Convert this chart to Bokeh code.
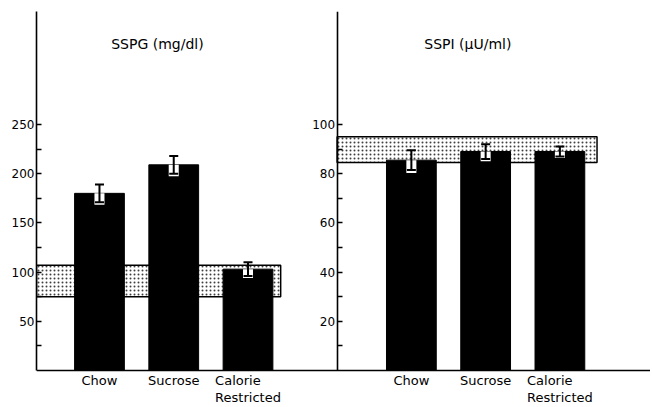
from bokeh.plotting import figure
from bokeh.models import (Range1d, LinearAxis, FixedTicker, ColumnDataSource,
                          Whisker, TeeHead, Label, LabelSet)
from bokeh.core.properties import value
from bokeh.embed import file_html
from bokeh.resources import INLINE

# ---------------- data ----------------
categories = ["Chow", "Sucrose", "Calorie\nRestricted"]
sspg_mean = [180, 209, 103]
sspg_sem = [9, 9, 7]
sspi_mean = [85.5, 89, 89]
sspi_sem = [4, 3, 2]
sspg_normal = [75, 107]
sspi_normal = [84.5, 95]
sspg_ticks = [50, 100, 150, 200, 250]
sspg_minor = [25, 75, 125, 175, 225]
sspi_ticks = [20, 40, 60, 80, 100]
sspi_minor = [10, 30, 50, 70, 90]
titles = ["SSPG (mg/dl)", "SSPI (\u00b5U/ml)"]

# ---------------- layout / style ----------------
FONT = "DejaVu Sans"
left_pos = [1, 2, 3]
RIGHT_OFFSET = 4.2
right_pos = [x + RIGHT_OFFSET for x in left_pos]
LEFT_AXIS_X = 0.152
RIGHT_AXIS_X = 4.2
X_END = 8.42
Y_END = 364.8
Y_START = -36.6          # room below the baseline for category names
Y_RATIO = 2.5
BAR_W = 0.67
BOX_W = 0.135
BAND_RIGHT = [3.44, 7.70]

p = figure(width=650, height=406,
           x_range=Range1d(LEFT_AXIS_X, X_END),
           y_range=Range1d(Y_START, Y_END),
           output_backend="svg", toolbar_location=None,
           min_border_left=36, min_border_right=0,
           min_border_top=11, min_border_bottom=0)
p.extra_y_ranges = {"r": Range1d(Y_START / Y_RATIO, Y_END / Y_RATIO)}
p.grid.visible = False
p.outline_line_color = None
p.background_fill_color = "white"
p.border_fill_color = "white"


def style_y(ax, ticks, minor, top):
    ax.ticker = FixedTicker(ticks=ticks, minor_ticks=minor)
    ax.bounds = (0, top)
    ax.axis_line_width = 1.6
    ax.axis_line_color = "black"
    ax.major_tick_in = 5
    ax.major_tick_out = 0
    ax.minor_tick_in = 5
    ax.minor_tick_out = 0
    ax.major_tick_line_width = 1.3
    ax.minor_tick_line_width = 1.3
    ax.major_label_standoff = 2
    ax.major_label_text_font = FONT
    ax.major_label_text_font_size = "12px"
    ax.major_label_text_color = "black"


style_y(p.yaxis[0], sspg_ticks, sspg_minor, Y_END)
axr = LinearAxis(y_range_name="r", fixed_location=RIGHT_AXIS_X)
style_y(axr, sspi_ticks, sspi_minor, Y_END / Y_RATIO)
p.add_layout(axr, "left")

# baseline: x axis at zero without ticks; category names as labels below it
xa = p.xaxis[0]
ticks_x = left_pos + right_pos
xa.fixed_location = 0
xa.ticker = FixedTicker(ticks=[], minor_ticks=[])
xa.major_tick_out = 0
xa.major_tick_in = 0
xa.minor_tick_out = 0
xa.major_label_standoff = 0
xa.axis_line_width = 1.6
xa.axis_line_color = "black"

cat_src = ColumnDataSource(dict(x=ticks_x, y=[0] * len(ticks_x),
                                text=categories * 2))
p.add_layout(LabelSet(source=cat_src, x="x", y="y", text="text",
                      y_offset=-3, text_align="center", text_baseline="top",
                      text_font=value(FONT), text_font_size=value("13px"),
                      text_color="black", text_line_height=1.12))

# normal-range bands
band_kw = dict(fill_color="white", hatch_pattern="dot", hatch_color="black",
               hatch_scale=4, hatch_weight=0.8, hatch_alpha=0.75,
               line_color="black", line_width=1.5)
p.quad(left=LEFT_AXIS_X, right=BAND_RIGHT[0], bottom=sspg_normal[0],
       top=sspg_normal[1], **band_kw)
p.quad(left=RIGHT_AXIS_X, right=BAND_RIGHT[1], bottom=sspi_normal[0],
       top=sspi_normal[1], y_range_name="r", **band_kw)


def panel(pos, mean, sem, rng):
    lower = [m - s for m, s in zip(mean, sem)]
    upper = [m + s for m, s in zip(mean, sem)]
    box_bottom = [lo - 0.3 * s for lo, s in zip(lower, sem)]
    src = ColumnDataSource(dict(x=pos, top=mean, lower=lower, upper=upper,
                                box_bottom=box_bottom))
    p.vbar(x="x", top="top", bottom=0, width=BAR_W, source=src,
           fill_color="black", line_color="black", y_range_name=rng)
    p.vbar(x="x", top="top", bottom="box_bottom", width=BOX_W, source=src,
           fill_color="white", line_color=None, y_range_name=rng)
    w = Whisker(source=src, base="x", upper="upper", lower="lower",
                line_width=2, line_color="black", y_range_name=rng,
                upper_head=TeeHead(size=9, line_width=2, line_color="black"),
                lower_head=TeeHead(size=9, line_width=2, line_color="black"),
                level="annotation")
    p.add_layout(w)


panel(left_pos, sspg_mean, sspg_sem, "default")
panel(right_pos, sspi_mean, sspi_sem, "r")

for tx, text in zip([1.78, 5.96], titles):
    p.add_layout(Label(x=tx, y=331.8, text=text, text_align="center",
                       text_baseline="middle", text_font=FONT,
                       text_font_size="14px", text_color="black"))

open("out.html", "w").write(file_html(p, INLINE))
